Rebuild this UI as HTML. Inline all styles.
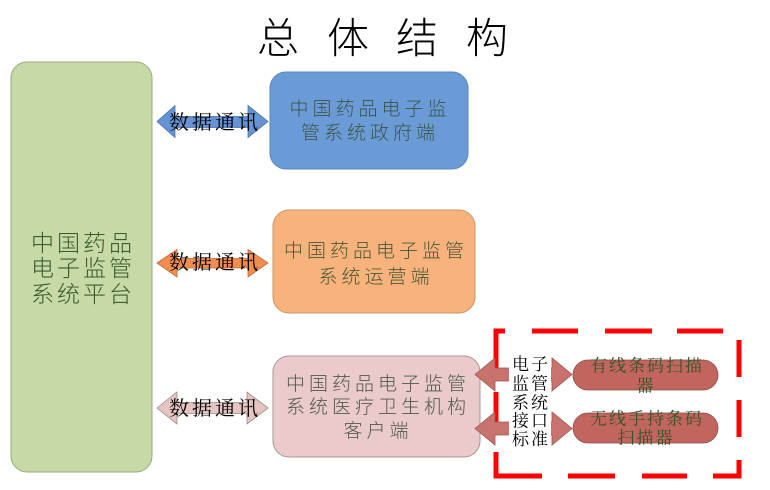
<!DOCTYPE html>
<html><head><meta charset="utf-8"><style>
html,body{margin:0;padding:0;background:#fff;}
svg{display:block;}
.t{font-family:"Liberation Sans","Noto Sans CJK SC",sans-serif;font-weight:300;}
.s{font-family:"Liberation Serif","Noto Serif CJK SC",serif;}
</style></head><body>
<svg width="770" height="490" viewBox="0 0 770 490" xmlns="http://www.w3.org/2000/svg">
<rect width="770" height="490" fill="#fff"/>
<!-- title -->
<g class="t" font-size="42" fill="#000" text-anchor="middle">
<text x="278" y="53">总</text>
<text x="348" y="53">体</text>
<text x="417" y="53">结</text>
<text x="487" y="53">构</text>
</g>
<!-- green platform -->
<rect x="11" y="62" width="141" height="410" rx="16" fill="#c6d9a6" stroke="#95ab78" stroke-width="1"/>
<g class="t" font-size="23" fill="#3a5a30" text-anchor="middle" letter-spacing="3">
<text x="83" y="251">中国药品</text>
<text x="83" y="276">电子监管</text>
<text x="83" y="302">系统平台</text>
</g>
<!-- blue -->
<rect x="270" y="72" width="198" height="97" rx="16" fill="#6b9bd7" stroke="#5a84b8" stroke-width="1"/>
<g class="t" font-size="19" fill="#3c5548" text-anchor="middle" letter-spacing="4">
<text x="370" y="115">中国药品电子监</text>
<text x="370" y="139">管系统政府端</text>
</g>
<!-- orange -->
<rect x="273" y="210" width="202" height="103" rx="16" fill="#f7b37b" stroke="#c8956a" stroke-width="1"/>
<g class="t" font-size="19" fill="#4a5638" text-anchor="middle" letter-spacing="4">
<text x="376" y="257">中国药品电子监管</text>
<text x="376" y="283">系统运营端</text>
</g>
<!-- pink -->
<rect x="273" y="356" width="207" height="101" rx="16" fill="#eacaca" stroke="#a89494" stroke-width="1"/>
<g class="t" font-size="19" fill="#4f5a4a" text-anchor="middle" letter-spacing="4">
<text x="378" y="390">中国药品电子监管</text>
<text x="378" y="413">系统医疗卫生机构</text>
<text x="378" y="437">客户端</text>
</g>
<!-- left double arrows -->
<polygon points="157,121.5 175,105.5 175,116.5 248,116.5 248,105.5 268,121.5 248,137.5 248,127.5 175,127.5 175,137.5" fill="#6593d4" stroke="#4a72a8" stroke-width="0.8"/>
<polygon points="157,263 177,249.5 177,258.5 248,258.5 248,249.5 268,263 248,277 248,268 177,268 177,277" fill="#f08d4f" stroke="#b86a3a" stroke-width="0.8"/>
<polygon points="157,408 177,392 177,402.5 247,402.5 247,392 268,408 247,424 247,413.5 177,413.5 177,424" fill="#e6c4c2" stroke="#9a8a8a" stroke-width="0.8"/>
<g class="s" font-size="20" fill="#000" text-anchor="middle" letter-spacing="3">
<text x="215" y="129">数据通讯</text>
<text x="215" y="269">数据通讯</text>
<text x="215" y="415">数据通讯</text>
</g>
<!-- dashed red box -->
<g stroke="#ff0000" stroke-width="5" fill="none" stroke-linecap="butt">
<polyline points="496,368 496,331 505,331"/>
<line x1="532" y1="331" x2="578" y2="331"/>
<line x1="605" y1="331" x2="652" y2="331"/>
<line x1="677" y1="331" x2="723" y2="331"/>
<line x1="739" y1="340" x2="739" y2="377"/>
<line x1="739" y1="400" x2="739" y2="437"/>
<polyline points="739,460 739,476 713,476"/>
<line x1="687" y1="476" x2="642" y2="476"/>
<line x1="615" y1="476" x2="568" y2="476"/>
<polyline points="542,476 496,476 496,452"/>
<line x1="496" y1="392" x2="496" y2="432"/>
</g>
<!-- inner arrows -->
<polygon points="475,374.5 495,358 495,368 552,368 552,358 572,374.5 552,391 552,381 495,381 495,391" fill="#c8736d" stroke="#9c5651" stroke-width="0.8"/>
<polygon points="475,428.5 495,412 495,422 552,422 552,412 572,428.5 552,445 552,435 495,435 495,445" fill="#c8736d" stroke="#9c5651" stroke-width="0.8"/>
<rect x="509" y="352" width="42" height="98" fill="#fff"/>
<g class="s" font-size="17" fill="#000" text-anchor="middle" letter-spacing="2">
<text x="531" y="370">电子</text>
<text x="531" y="389.5">监管</text>
<text x="531" y="408.5">系统</text>
<text x="531" y="426.5">接口</text>
<text x="531" y="445">标准</text>
</g>
<!-- capsules -->
<rect x="573" y="360" width="145" height="30" rx="15" fill="#c2655f" stroke="#8e4b47" stroke-width="0.8"/>
<rect x="573" y="413" width="145" height="30" rx="15" fill="#c2655f" stroke="#8e4b47" stroke-width="0.8"/>
<g class="s" font-size="17" fill="#2f5528" text-anchor="middle" letter-spacing="2">
<text x="647" y="371.5">有线条码扫描</text>
<text x="646" y="391.5">器</text>
<text x="647" y="424.5">无线手持条码</text>
<text x="646" y="443.5">扫描器</text>
</g>
</svg>
</body></html>
